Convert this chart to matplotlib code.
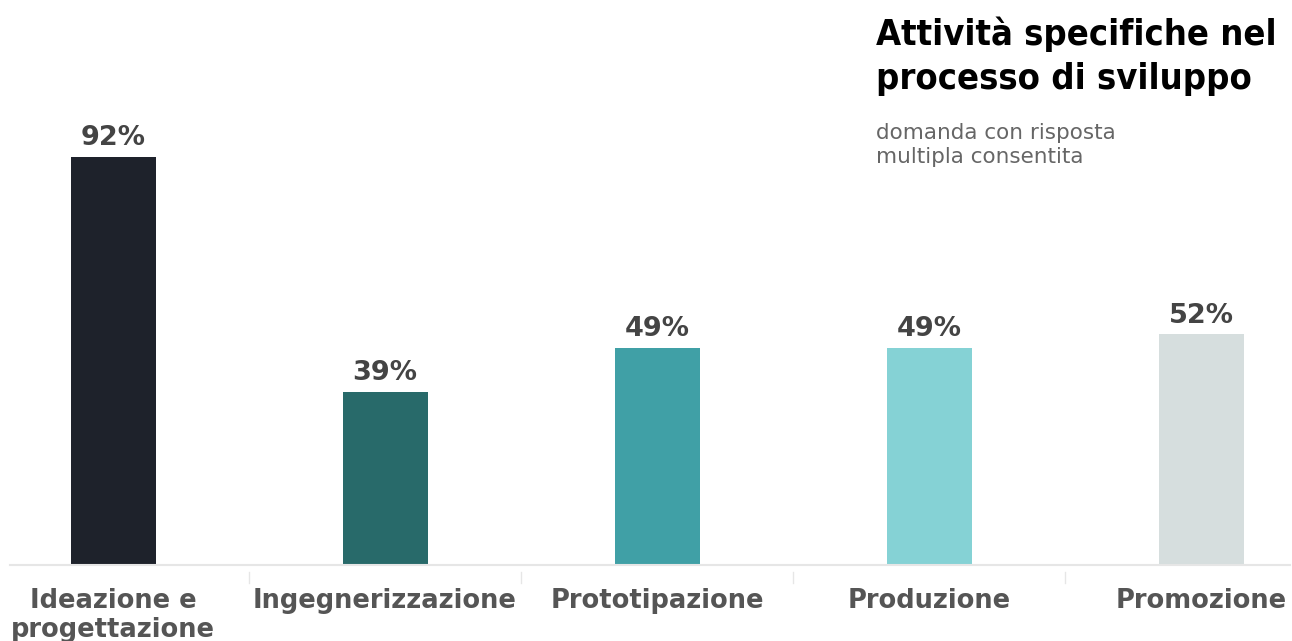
import matplotlib
matplotlib.use('Agg')
import matplotlib.pyplot as plt
import numpy as np

categories = ['Ideazione e\nprogettazione', 'Ingegnerizzazione', 'Prototipazione', 'Produzione', 'Promozione']
values = [92, 39, 49, 49, 52]
bar_colors = ['#1e222b', '#286a6a', '#40a0a6', '#85d2d5', '#d6dede']

W, H = 1292, 641
fig = plt.figure(figsize=(W / 100, H / 100), dpi=100)
# axes spans full width, baseline at y=565px
ax = fig.add_axes([0, (H - 565) / H, 1, 565 / H])
x = np.arange(len(categories))
ax.set_xlim(-113 / 272, (W - 113) / 272)
ax.set_ylim(0, 565 / 4.435)
ax.bar(x, values, width=0.3125, color=bar_colors)

for xi, v in zip(x, values):
    ax.text(xi, v + 1.3, '%d%%' % v, ha='center', va='bottom', fontsize=19.5,
            fontweight='bold', color='#444444')

ax.axis('off')
# baseline and separators
ax.axhline(0, xmin=10 / W, xmax=1290 / W, color='#e6e6e6', lw=1.5, clip_on=False)
for b in x[:-1] + 0.5:
    ax.plot([b, b], [-1.6, -4.0], color='#e6e6e6', lw=1, clip_on=False)

for xi, c in zip(x, categories):
    ax.text(xi, -5.2, c, ha='center', va='top', fontsize=18.5, fontweight='bold',
            color='#555555', linespacing=1.15)

fig.text(876 / W, 1 - 16 / H, 'Attività specifiche nel\nprocesso di sviluppo',
         ha='left', va='top', fontsize=26, fontweight='bold',
         family=['Liberation Sans Narrow', 'DejaVu Sans'], fontstretch='condensed',
         color='#000000', linespacing=1.4)
fig.text(876 / W, 1 - 123 / H, 'domanda con risposta\nmultipla consentita',
         ha='left', va='top', fontsize=15.5, color='#666666', linespacing=1.25)

fig.savefig('out.png', dpi=100)
